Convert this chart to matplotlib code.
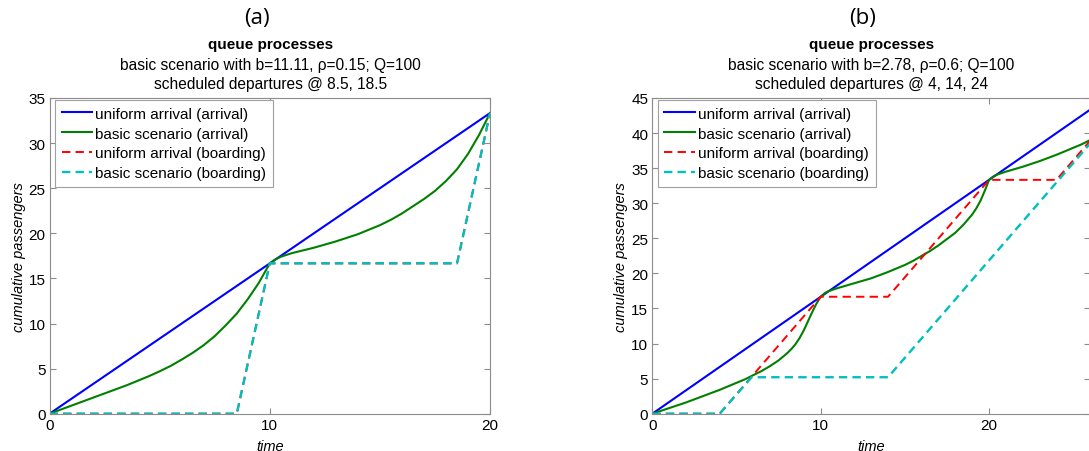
import matplotlib.pyplot as plt

plt.rcParams['font.family'] = ['Liberation Sans', 'DejaVu Sans']

# ---- panel (a): b=11.11, rho=0.15, departures @ 8.5, 18.5
a_uniform_t = [0, 20]
a_uniform_y = [0, 33.33]
a_basic_t = [0, 0.5, 1, 1.5, 2, 2.5, 3, 3.5, 4, 4.5, 5, 5.5, 6, 6.5, 7, 7.5, 8, 8.5, 9, 9.5, 10,
             10.25, 10.5, 11, 11.5, 12, 12.5, 13, 13.5, 14, 14.5, 15, 15.5, 16, 16.5, 17,
             17.5, 18, 18.5, 19, 19.5, 20]
a_basic_y = [0, 0.45, 0.9, 1.35, 1.8, 2.25, 2.7, 3.15, 3.65, 4.15, 4.7, 5.3, 6.0, 6.75, 7.6,
             8.6, 9.8, 11.1, 12.7, 14.5, 16.67,
             17.1, 17.4, 17.8, 18.1, 18.4, 18.75, 19.1, 19.5, 19.9, 20.4, 20.9, 21.5, 22.2,
             23.0, 23.8, 24.7, 25.8, 27.1, 28.8, 30.9, 33.33]
a_uniform_board_t = [0, 8.5, 10, 18.5, 20]
a_uniform_board_y = [0, 0, 16.67, 16.67, 33.33]
a_basic_board_t = [0, 8.5, 10, 18.5, 20]
a_basic_board_y = [0, 0, 16.67, 16.67, 33.33]

# ---- panel (b): b=2.78, rho=0.6, departures @ 4, 14, 24
b_uniform_t = [0, 26]
b_uniform_y = [0, 43.33]
b_basic_t = [0, 1, 2, 3, 4, 5, 5.5, 6, 6.5, 7, 7.5, 8, 8.25, 8.5, 8.75, 9, 9.25, 9.5, 9.75, 10,
             10.25, 10.5, 11, 11.5, 12, 13, 14, 15, 15.5, 16, 16.5, 17, 17.5, 18, 18.5, 19,
             19.25, 19.5, 19.75, 20,
             20.25, 20.5, 21, 21.5, 22, 22.5, 23, 23.5, 24, 24.5, 25, 25.5, 26]
b_basic_y = [0, 0.8, 1.6, 2.5, 3.4, 4.4, 4.9, 5.5, 6.1, 6.8, 7.6, 8.6, 9.2, 9.9, 10.8, 11.9,
             13.2, 14.5, 15.7, 16.67,
             17.2, 17.5, 17.9, 18.25, 18.6, 19.3, 20.2, 21.2, 21.8, 22.5, 23.2, 24.0, 24.9,
             25.8, 27.0, 28.4, 29.3, 30.4, 31.8, 33.33,
             33.8, 34.1, 34.5, 34.85, 35.2, 35.6, 36.0, 36.45, 36.9, 37.4, 37.9, 38.4, 39.0]
b_uniform_board_t = [0, 4, 10, 14, 20, 24, 26]
b_uniform_board_y = [0, 0, 16.67, 16.67, 33.33, 33.33, 38.9]
b_basic_board_t = [0, 4, 5.9, 14, 26]
b_basic_board_y = [0, 0, 5.2, 5.2, 38.5]

labels = ['uniform arrival (arrival)', 'basic scenario (arrival)',
          'uniform arrival (boarding)', 'basic scenario (boarding)']
colors = ['#0000ff', '#008000', '#ff0000', '#00bfbf']
widths = [1.5, 1.5, 1.4, 1.7]

fig = plt.figure(figsize=(10.89, 4.52), dpi=100)
ax_a = fig.add_axes([0.0455, 0.0825, 0.4045, 0.6985])
ax_b = fig.add_axes([0.599, 0.0825, 0.402, 0.6985])


def draw_panel(ax, series, xmax, ymax):
    for (t, y), lab, col, lw in zip(series, labels, colors, widths):
        style = '-' if 'arrival)' in lab else '--'
        ln, = ax.plot(t, y, style, color=col, lw=lw, label=lab)
        if style == '--':
            ln.set_dashes([6 / lw, 3.75 / lw])
    ax.set_xlim(0, xmax)
    ax.set_ylim(0, ymax)
    ax.set_xticks([0, 10, 20])
    ax.set_yticks(range(0, ymax + 1, 5))
    for s in ax.spines.values():
        s.set_color('#8c8c8c')
    ax.tick_params(direction='in', top=True, right=True, length=4,
                   color='#8c8c8c', labelsize=11, labelcolor='black', pad=3)
    ax.set_xlabel('time', style='italic', fontsize=10.5, labelpad=5)
    ax.set_ylabel('cumulative passengers', style='italic', fontsize=10.5, labelpad=2)
    leg = ax.legend(loc='upper left', bbox_to_anchor=(0.012, 0.994), borderaxespad=0,
                    fancybox=False, edgecolor='#a0a0a0', framealpha=1,
                    fontsize=11, handlelength=2.0, handletextpad=0.2,
                    labelspacing=0.38, borderpad=0.45)
    leg.get_frame().set_linewidth(0.8)


draw_panel(ax_a, [(a_uniform_t, a_uniform_y), (a_basic_t, a_basic_y),
                  (a_uniform_board_t, a_uniform_board_y),
                  (a_basic_board_t, a_basic_board_y)], 20, 35)
draw_panel(ax_b, [(b_uniform_t, b_uniform_y), (b_basic_t, b_basic_y),
                  (b_uniform_board_t, b_uniform_board_y),
                  (b_basic_board_t, b_basic_board_y)], 26, 45)

# headers above each panel
titles = [
    (0.236, 0.248, '(a)', 'basic scenario with b=11.11, \u03c1=0.15; Q=100',
     'scheduled departures @ 8.5, 18.5'),
    (0.792, 0.800, '(b)', 'basic scenario with b=2.78, \u03c1=0.6; Q=100',
     'scheduled departures @ 4, 14, 24'),
]
for xl, xc, tag, line2, line3 in titles:
    fig.text(xl, 0.958, tag, ha='center', va='center', fontsize=16,
             family=['Open Sans', 'DejaVu Sans'])
    fig.text(xc, 0.900, 'queue processes', ha='center', va='center',
             fontsize=11, weight='bold')
    fig.text(xc, 0.855, line2, ha='center', va='center', fontsize=11.2)
    fig.text(xc, 0.812, line3, ha='center', va='center', fontsize=11.2)

fig.savefig('out.png', dpi=100)
